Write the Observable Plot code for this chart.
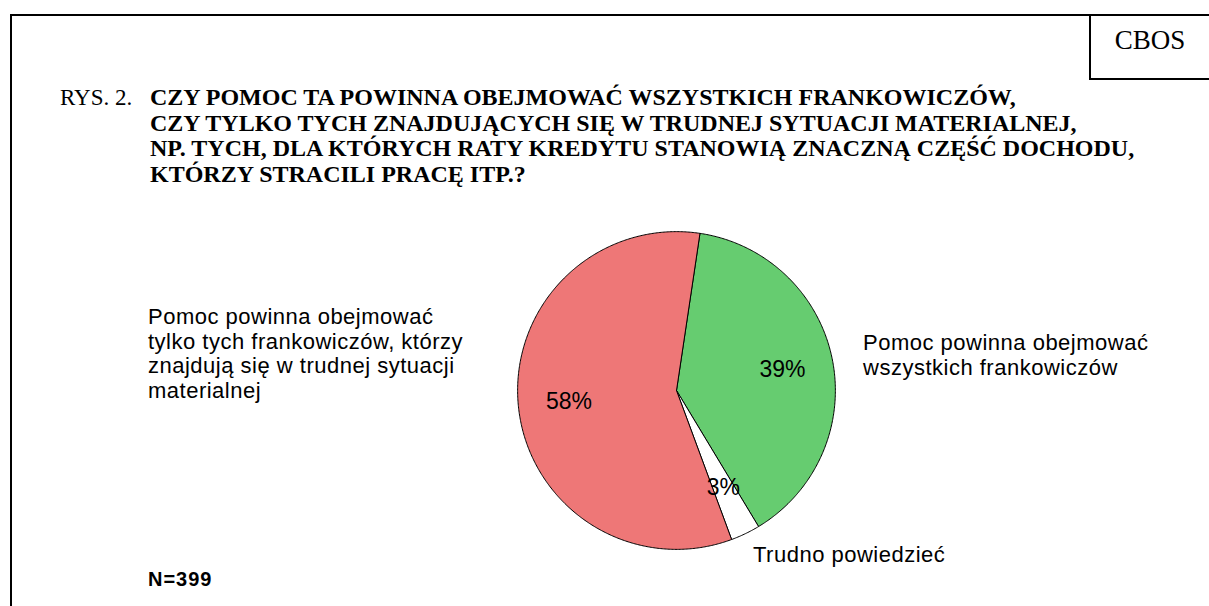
<!DOCTYPE html>
<html>
<head>
<meta charset="utf-8">
<script src="https://cdn.jsdelivr.net/npm/d3@7"></script>
<script src="https://cdn.jsdelivr.net/npm/@observablehq/plot@0.6"></script>
<style>
  html, body { margin: 0; padding: 0; background: #fff; }
  #page { position: relative; width: 1209px; height: 606px; overflow: hidden; background: #fff; }
  .frameL { position: absolute; left: 10px; top: 14px; width: 2px; height: 600px; background: #000; }
  .frameT { position: absolute; left: 10px; top: 14px; width: 1199px; height: 2px; background: #000; }
  .cbosL { position: absolute; left: 1089px; top: 14px; width: 2px; height: 66px; background: #000; }
  .cbosB { position: absolute; left: 1089px; top: 78px; width: 120px; height: 2px; background: #000; }
  .cbos { position: absolute; left: 1091px; top: 25px; width: 118px; text-align: center; font-family: "Liberation Serif", serif; font-size: 27px; line-height: normal; }
  .rys { position: absolute; left: 60px; top: 85px; font-family: "Liberation Serif", serif; font-size: 23px; line-height: 25.5px; }
  .title { position: absolute; left: 150px; top: 85px; font-family: "Liberation Serif", serif; font-weight: bold; font-size: 24px; line-height: 25.5px; white-space: nowrap; }
  .lab { position: absolute; font-family: "Liberation Sans", Arial, sans-serif; font-size: 22px; line-height: 24.6px; letter-spacing: 0.5px; white-space: nowrap; }
  .n { position: absolute; left: 148px; top: 568px; font-family: "Liberation Sans", Arial, sans-serif; font-weight: bold; font-size: 20px; letter-spacing: 1px; }
  #pie { position: absolute; left: 506px; top: 220px; }
</style>
</head>
<body>
<div id="page">
  <div class="frameL"></div>
  <div class="frameT"></div>
  <div class="cbosL"></div>
  <div class="cbosB"></div>
  <div class="cbos">CBOS</div>
  <div class="rys">RYS. 2.</div>
  <div class="title" id="title"></div>
  <div class="lab" id="labRed" style="left:148px; top:305px;"></div>
  <div class="lab" id="labGreen" style="left:863px; top:331px;"></div>
  <div class="lab" id="labWhite" style="left:753px; top:543px;"></div>
  <div class="n">N=399</div>
  <div id="pie"></div>
</div>
<script>
// ---- data ----
const titleLines = [
  "CZY POMOC TA POWINNA OBEJMOWAĆ WSZYSTKICH FRANKOWICZÓW,",
  "CZY TYLKO TYCH ZNAJDUJĄCYCH SIĘ W TRUDNEJ SYTUACJI MATERIALNEJ,",
  "NP. TYCH, DLA KTÓRYCH RATY KREDYTU STANOWIĄ ZNACZNĄ CZĘŚĆ DOCHODU,",
  "KTÓRZY STRACILI PRACĘ ITP.?"
];
const categories = ["wszystkich", "trudno", "tylko"];
const categoryLabels = [
  ["Pomoc powinna obejmować", "wszystkich frankowiczów"],
  ["Trudno powiedzieć"],
  ["Pomoc powinna obejmować", "tylko tych frankowiczów, którzy", "znajdują się w trudnej sytuacji", "materialnej"]
];
const values = [39, 3, 58];
const valueLabels = ["39%", "3%", "58%"];
const sliceColors = ["#66cc70", "#ffffff", "#ee7777"];
const startDeg = 8.5;

// ---- text ----
document.getElementById("title").innerHTML = titleLines.join("<br>");
document.getElementById("labGreen").innerHTML = categoryLabels[0].join("<br>");
document.getElementById("labWhite").innerHTML = categoryLabels[1].join("<br>");
document.getElementById("labRed").innerHTML = categoryLabels[2].join("<br>");

// ---- pie geometry from data ----
const table = categories.map((c, i) => ({key: c, value: values[i], label: valueLabels[i]}));
const a0 = startDeg * Math.PI / 180;
const arcs = d3.pie().sort(null).value(d => d.value).startAngle(a0).endAngle(a0 + 2 * Math.PI)(table);

const pts = [];
const centroids = [];
for (const a of arcs) {
  const k = a.data.key;
  pts.push({key: k, x: 0, y: 0});
  const n = Math.max(2, Math.ceil((a.endAngle - a.startAngle) / (Math.PI / 360)));
  for (let j = 0; j <= n; j++) {
    const t = a.startAngle + (a.endAngle - a.startAngle) * j / n;
    pts.push({key: k, x: Math.sin(t), y: Math.cos(t)});
  }
  pts.push({key: k, x: 0, y: 0});
  const m = (a.startAngle + a.endAngle) / 2;
  centroids.push({key: k, label: a.data.label, x: 0.68 * Math.sin(m), y: 0.68 * Math.cos(m)});
}

const chart = Plot.plot({
  width: 340,
  height: 340,
  margin: 0,
  x: {domain: [-1.07, 1.07], axis: null},
  y: {domain: [-1.07, 1.07], axis: null},
  color: {domain: categories, range: sliceColors},
  style: {background: "transparent", overflow: "visible"},
  marks: [
    Plot.line(pts, {x: "x", y: "y", z: "key", fill: "key", stroke: "#000", strokeWidth: 1, curve: "linear"}),
    Plot.text(centroids, {x: "x", y: "y", text: "label", fill: "#000", fontSize: 23, fontFamily: "Liberation Sans, Arial, sans-serif"})
  ]
});
document.getElementById("pie").appendChild(chart);
</script>
</body>
</html>
